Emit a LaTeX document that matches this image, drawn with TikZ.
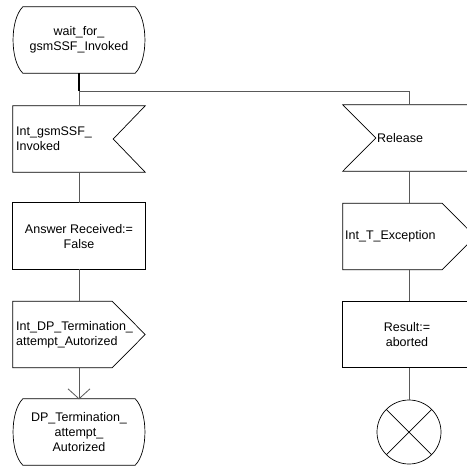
\documentclass[tikz,border=0pt]{standalone}
\usepackage{fontspec}
\setmainfont{Liberation Sans}
\begin{document}
\begin{tikzpicture}[x=1pt,y=-1pt,
  sym/.style={minimum width=132pt, minimum height=66pt, inner sep=0pt, draw=none},
  shp/.style={draw=black, line width=0.7pt},
  conn/.style={draw=black!65, line width=0.8pt},
  txt/.style={inner sep=0pt, font=\fontsize{12.5}{15}\selectfont, align=center}]
\clip (0,0) rectangle (467,467);
% symbol frames
\node[sym] (s1) at (79,40) {};
\node[sym] (i1) at (79,139) {};
\node[sym] (t1) at (79,236) {};
\node[sym] (o1) at (79,334.5) {};
\node[sym] (s2) at (79,432) {};
\node[sym] (i2) at (409,138) {};
\node[sym] (o2) at (409,236.5) {};
\node[sym] (t2) at (409,334.5) {};
\node[circle, minimum size=64pt, inner sep=0pt, draw=black, line width=0.7pt] (stop) at (409,432) {};
\coordinate (split) at (79,91);
\coordinate (splitr) at (409,91);
% state wait_for_gsmSSF_Invoked
\draw[shp] ([xshift=10pt]s1.north west) -- ([xshift=-10pt]s1.north east)
  .. controls ([xshift=3pt,yshift=-13pt]s1.north east) and ([xshift=3pt,yshift=13pt]s1.south east) .. ([xshift=-10pt]s1.south east)
  -- ([xshift=10pt]s1.south west)
  .. controls ([xshift=-3pt,yshift=13pt]s1.south west) and ([xshift=-3pt,yshift=-13pt]s1.north west) .. cycle;
% input Int_gsmSSF_Invoked
\draw[shp] (i1.north west) -- (i1.north east) -- ([xshift=-32pt]i1.east) -- (i1.south east) -- (i1.south west) -- cycle;
% task Answer Received
\draw[shp] (t1.north west) rectangle (t1.south east);
% output Int_DP_Termination
\draw[shp] (o1.north west) -- ([xshift=-33pt]o1.north east) -- (o1.east) -- ([xshift=-33pt]o1.south east) -- (o1.south west) -- cycle;
% state DP_Termination
\draw[shp] ([xshift=10pt]s2.north west) -- ([xshift=-10pt]s2.north east)
  .. controls ([xshift=3pt,yshift=-13pt]s2.north east) and ([xshift=3pt,yshift=13pt]s2.south east) .. ([xshift=-10pt]s2.south east)
  -- ([xshift=10pt]s2.south west)
  .. controls ([xshift=-3pt,yshift=13pt]s2.south west) and ([xshift=-3pt,yshift=-13pt]s2.north west) .. cycle;
% input Release
\draw[shp] (i2.north west) -- (i2.north east) -- (i2.south east) -- (i2.south west) -- ([xshift=33pt]i2.west) -- cycle;
% output Int_T_Exception
\draw[shp] (o2.north west) -- ([xshift=-33pt]o2.north east) -- (o2.east) -- ([xshift=-33pt]o2.south east) -- (o2.south west) -- cycle;
% task Result
\draw[shp] (t2.north west) rectangle (t2.south east);
% stop
\draw[shp] (stop.north west) -- (stop.south east);
\draw[shp] (stop.north east) -- (stop.south west);
% texts
\node[txt] at (79,40) {wait\_for\_\\gsmSSF\_Invoked};
\node[txt, align=left, anchor=west] at (16,139) {Int\_gsmSSF\_\\Invoked};
\node[txt] at (79,237) {Answer Received:=\\False};
\node[txt, align=left, anchor=west] at (16,334.5) {Int\_DP\_Termination\_\\attempt\_Autorized};
\node[txt] at (79,432) {DP\_Termination\_\\attempt\_\\Autorized};
\node[txt, anchor=west] at (377,138) {Release};
\node[txt, anchor=west] at (345,236) {Int\_T\_Exception};
\node[txt] at (407,334.5) {Result:=\\aborted};
% connectors
\draw[draw=black, line width=1.6pt] (s1.south) -- (split);
\draw[conn] (split) -- (i1.north);
\draw[conn] (split) -- (splitr) -- (i2.north);
\draw[conn] (i1.south) -- (t1.north);
\draw[conn] (t1.south) -- (o1.north);
\draw[conn] (o1.south) -- (s2.north);
\draw[conn] ([xshift=-11pt,yshift=10pt]s2.north) -- (s2.north) -- ([xshift=11pt,yshift=10pt]s2.north);
\draw[conn] (i2.south) -- (o2.north);
\draw[conn] (o2.south) -- (t2.north);
\draw[conn] (t2.south) -- (stop.north);
\end{tikzpicture}
\end{document}
